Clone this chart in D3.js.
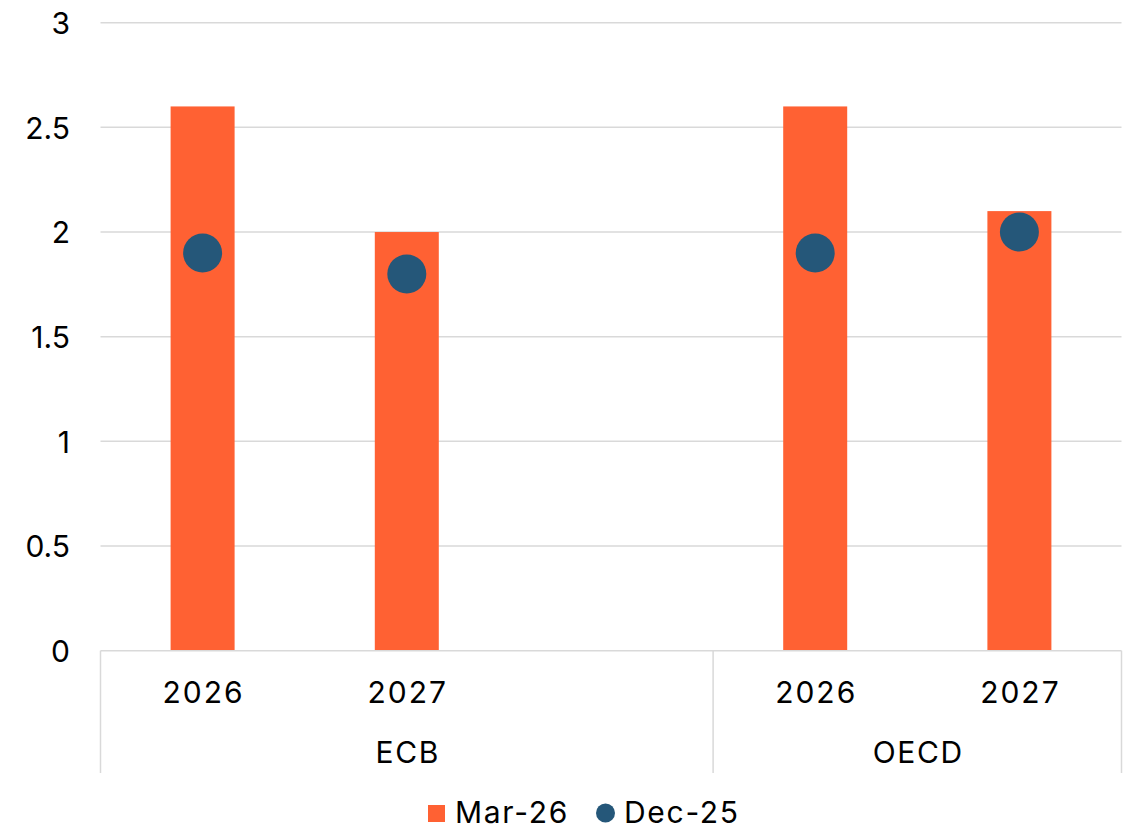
<!DOCTYPE html>
<html>
<head>
<meta charset="utf-8">
<script src="https://cdn.jsdelivr.net/npm/d3@7"></script>
<style>
  body { margin: 0; background: #fff; }
  text { font-family: Inter, "Noto Sans", sans-serif; fill: #000; }
</style>
</head>
<body>
<svg id="chart" width="1132" height="826"></svg>
<script>
const slots = ["ECB|2026", "ECB|2027", "gap", "OECD|2026", "OECD|2027"];
const yearLabels = ["2026", "2027", "", "2026", "2027"];
const groupNames = ["ECB", "OECD"];
const groupSpans = [[0, 3], [3, 5]];
const mar26 = [2.6, 2.0, null, 2.6, 2.1];
const dec25 = [1.9, 1.8, null, 1.9, 2.0];
const yTicks = [0, 0.5, 1, 1.5, 2, 2.5, 3];
const seriesNames = ["Mar-26", "Dec-25"];
const colors = { bar: "#FF6133", dot: "#255779", grid: "#d9d9d9" };

const svg = d3.select("#chart");
const mLeft = 100.5, mRight = 1121.5, mTop = 22.7, mBottom = 650.7;

const x = d3.scaleBand().domain(slots).range([mLeft, mRight]).paddingInner(0).paddingOuter(0);
const y = d3.scaleLinear().domain([0, 3]).range([mBottom, mTop]);
const barW = 64;

// gridlines
svg.append("g").selectAll("line").data(yTicks.filter(d => d > 0)).join("line")
  .attr("x1", mLeft).attr("x2", mRight)
  .attr("y1", d => y(d)).attr("y2", d => y(d))
  .attr("stroke", colors.grid).attr("stroke-width", 1.5);

// y-axis labels
const yAxis = d3.axisLeft(y).tickValues(yTicks).tickSize(0).tickPadding(0).tickFormat(d3.format("~g"));
const ya = svg.append("g").attr("transform", `translate(70,0)`).call(yAxis);
ya.select(".domain").remove();
ya.selectAll("text").attr("font-size", 30).attr("font-family", "Inter, sans-serif").attr("fill", "#000").attr("dy", "0.36em");

// bars
svg.append("g").selectAll("rect").data(slots.map((s, i) => ({ s, v: mar26[i] })).filter(d => d.v != null)).join("rect")
  .attr("x", d => x(d.s) + x.bandwidth() / 2 - barW / 2)
  .attr("width", barW)
  .attr("y", d => y(d.v))
  .attr("height", d => y(0) - y(d.v))
  .attr("fill", colors.bar);

// dots
svg.append("g").selectAll("circle").data(slots.map((s, i) => ({ s, v: dec25[i] })).filter(d => d.v != null)).join("circle")
  .attr("cx", d => x(d.s) + x.bandwidth() / 2)
  .attr("cy", d => y(d.v))
  .attr("r", 19.5)
  .attr("fill", colors.dot);

// category axis: baseline and separators
const axisBottomY = 773;
svg.append("line").attr("x1", mLeft).attr("x2", mRight).attr("y1", mBottom).attr("y2", mBottom)
  .attr("stroke", colors.grid).attr("stroke-width", 1.5);
const seps = [0, 3, 5].map(i => i < slots.length ? x(slots[i]) : mRight);
svg.append("g").selectAll("line").data(seps).join("line")
  .attr("x1", d => d).attr("x2", d => d).attr("y1", mBottom).attr("y2", axisBottomY)
  .attr("stroke", colors.grid).attr("stroke-width", 1.5);

// year labels
svg.append("g").selectAll("text").data(slots.map((s, i) => ({ s, t: yearLabels[i] })).filter(d => d.t)).join("text")
  .attr("x", d => x(d.s) + x.bandwidth() / 2 + 1)
  .attr("y", 692).attr("dy", "0.36em")
  .attr("text-anchor", "middle").attr("font-size", 30).attr("letter-spacing", 2)
  .text(d => d.t);

// group labels
svg.append("g").selectAll("text").data(groupNames.map((g, i) => ({ g, span: groupSpans[i] }))).join("text")
  .attr("x", d => (x(slots[d.span[0]]) + (d.span[1] < slots.length ? x(slots[d.span[1]]) : mRight)) / 2 + 1)
  .attr("y", 752).attr("dy", "0.36em")
  .attr("text-anchor", "middle").attr("font-size", 30).attr("letter-spacing", 1.6)
  .text(d => d.g);

// legend
const lg = svg.append("g");
lg.append("rect").attr("x", 428).attr("y", 805).attr("width", 17).attr("height", 17).attr("fill", colors.bar);
lg.append("text").attr("x", 455).attr("y", 812).attr("dy", "0.36em").attr("font-size", 30).attr("letter-spacing", 1.7).text(seriesNames[0]);
lg.append("circle").attr("cx", 605.5).attr("cy", 813).attr("r", 9.5).attr("fill", colors.dot);
lg.append("text").attr("x", 624).attr("y", 812).attr("dy", "0.36em").attr("font-size", 30).attr("letter-spacing", 1.7).text(seriesNames[1]);
</script>
</body>
</html>
